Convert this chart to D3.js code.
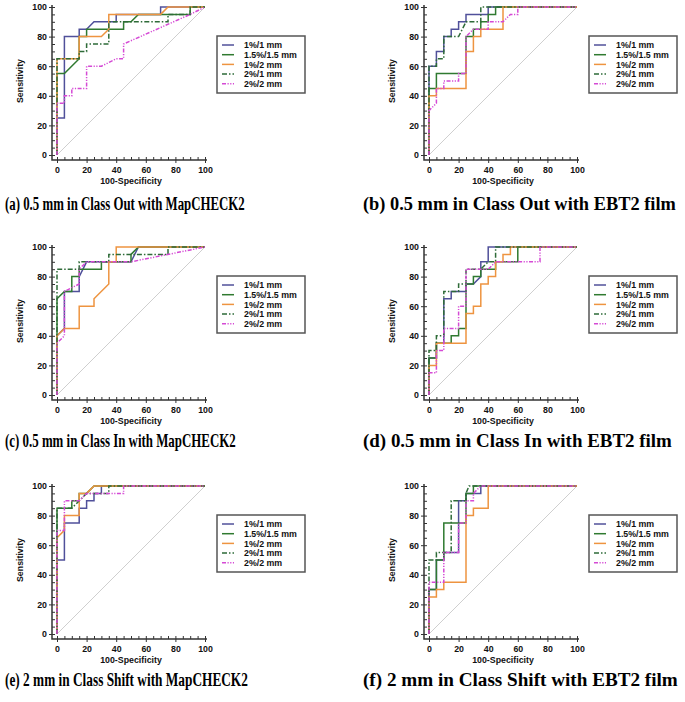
<!DOCTYPE html>
<html><head><meta charset="utf-8">
<script src="https://cdn.jsdelivr.net/npm/d3@7"></script>
<style>body{margin:0;background:#fff}svg{display:block}</style>
</head><body>
<svg id="chart" width="685" height="702"></svg>
<script>
const seriesNames = ["1%/1 mm", "1.5%/1.5 mm", "1%/2 mm", "2%/1 mm", "2%/2 mm"];
const captions = [
  "(a) 0.5 mm in Class Out with MapCHECK2",
  "(b) 0.5 mm in Class Out with EBT2 film",
  "(c) 0.5 mm in Class In with MapCHECK2",
  "(d) 0.5 mm in Class In with EBT2 film",
  "(e) 2 mm in Class Shift with MapCHECK2",
  "(f) 2 mm in Class Shift with EBT2 film"
];
const majorTicks = [0, 20, 40, 60, 80, 100];
const xTitle = "100-Specificity";
const yTitle = "Sensitivity";

// ROC points [100-Specificity, Sensitivity]
const pa1 = [[0,0],[0,25],[5,25],[5,80],[15,80],[15,85],[20,85],[25,90],[40,90],[40,95],[70,95],[70,100],[100,100]];
const pa2 = [[0,0],[0,55],[5,55],[15,65],[15,80],[20,80],[20,85],[45,85],[45,90],[50,90],[55,95],[90,95],[90,100],[100,100]];
const pa3 = [[0,0],[0,65],[15,65],[15,80],[30,80],[35,85],[35,95],[70,95],[75,100],[100,100]];
const pa4 = [[0,0],[0,65],[15,65],[15,70],[20,70],[20,75],[35,75],[35,90],[75,90],[75,95],[90,95],[90,100],[100,100]];
const pa5 = [[0,0],[0,35],[5,35],[5,40],[10,40],[10,45],[20,45],[20,60],[30,60],[40,65],[45,65],[45,75],[90,95],[100,100]];

const pb1 = [[0,0],[0,60],[5,60],[5,70],[10,70],[10,80],[15,80],[15,85],[20,85],[20,90],[25,90],[25,95],[40,95],[40,100],[100,100]];
const pb2 = [[0,0],[0,45],[5,45],[5,55],[25,55],[25,80],[30,80],[30,85],[35,85],[35,90],[40,90],[40,95],[45,95],[45,100],[100,100]];
const pb3 = [[0,0],[0,40],[5,40],[5,45],[25,45],[25,70],[30,70],[30,80],[35,80],[35,85],[50,85],[50,100],[100,100]];
const pb4 = [[0,0],[0,60],[5,60],[5,65],[10,65],[10,80],[20,80],[25,90],[35,90],[35,100],[100,100]];
const pb5 = [[0,0],[0,30],[5,35],[5,45],[10,45],[10,50],[20,50],[20,55],[25,55],[25,80],[30,85],[40,85],[40,90],[50,90],[55,95],[60,95],[60,100],[100,100]];

const pc1 = [[0,0],[0,40],[5,45],[5,70],[15,70],[15,80],[20,90],[50,90],[55,100],[100,100]];
const pc2 = [[0,0],[0,65],[5,70],[10,70],[10,80],[15,80],[15,85],[30,85],[30,90],[50,90],[50,95],[55,100],[100,100]];
const pc3 = [[0,0],[0,40],[5,45],[15,45],[15,60],[25,60],[25,65],[35,75],[35,90],[40,90],[40,100],[100,100]];
const pc4 = [[0,0],[0,85],[15,85],[15,90],[35,90],[35,95],[75,95],[75,100],[100,100]];
const pc5 = [[0,0],[0,35],[5,40],[5,70],[15,75],[15,85],[20,90],[50,90],[100,100]];

const pd1 = [[0,0],[0,25],[5,25],[5,35],[10,35],[10,65],[15,65],[15,70],[25,70],[25,75],[30,75],[35,80],[35,90],[40,90],[40,100],[100,100]];
const pd2 = [[0,0],[0,25],[5,25],[5,35],[15,35],[15,40],[20,40],[20,45],[25,45],[25,75],[30,75],[30,80],[35,80],[35,85],[45,85],[45,90],[60,90],[60,100],[100,100]];
const pd3 = [[0,0],[0,20],[5,20],[5,35],[25,35],[25,55],[30,55],[30,60],[35,60],[35,75],[40,75],[40,80],[45,80],[45,90],[50,90],[50,95],[55,95],[55,100],[100,100]];
const pd4 = [[0,0],[0,30],[5,30],[5,40],[10,40],[10,70],[20,70],[20,75],[25,75],[25,85],[35,85],[40,90],[45,90],[45,100],[100,100]];
const pd5 = [[0,0],[0,15],[5,15],[5,30],[10,30],[10,45],[20,45],[20,60],[25,60],[25,85],[40,85],[45,90],[75,90],[75,100],[100,100]];

const pe1 = [[0,0],[0,50],[5,50],[5,75],[15,75],[15,85],[20,85],[20,90],[25,90],[25,95],[30,95],[30,100],[100,100]];
const pe2 = [[0,0],[0,85],[10,85],[10,90],[15,90],[15,95],[20,95],[25,100],[100,100]];
const pe3 = [[0,0],[0,65],[5,70],[5,80],[15,80],[15,95],[20,95],[25,100],[100,100]];
const pe4 = [[0,0],[0,85],[10,85],[15,90],[20,95],[35,95],[35,100],[100,100]];
const pe5 = [[0,0],[0,70],[5,70],[5,90],[15,90],[20,95],[45,95],[45,100],[100,100]];

const pf1 = [[0,0],[0,30],[5,30],[5,50],[10,50],[10,55],[20,55],[20,90],[25,90],[25,95],[35,95],[35,100],[100,100]];
const pf2 = [[0,0],[0,30],[5,30],[5,50],[10,50],[10,75],[25,75],[25,95],[30,95],[30,100],[100,100]];
const pf3 = [[0,0],[0,25],[5,25],[5,30],[10,30],[10,35],[25,35],[25,80],[30,80],[30,85],[40,85],[40,100],[100,100]];
const pf4 = [[0,0],[0,50],[5,50],[5,55],[15,55],[15,90],[25,90],[25,95],[27,100],[100,100]];
const pf5 = [[0,0],[0,35],[10,35],[10,55],[20,55],[20,75],[25,75],[25,90],[30,90],[30,95],[35,100],[100,100]];

const panelSeries = [[pa1,pa2,pa3,pa4,pa5],[pb1,pb2,pb3,pb4,pb5],[pc1,pc2,pc3,pc4,pc5],
                     [pd1,pd2,pd3,pd4,pd5],[pe1,pe2,pe3,pe4,pe5],[pf1,pf2,pf3,pf4,pf5]];

// styles
const colors = ["#50509a", "#2f7a30", "#ee9440", "#2e6b38", "#d54ad5"];
const dashes = [null, null, null, "5,2,1.5,2", "4,1.5,1.2,1.5,1.2,1.5"];
const panelX = [57, 429, 57, 429, 57, 429];
const panelY = [7, 7, 247, 247, 486, 486];
const captionX = [5, 363, 5, 363, 5, 363];
const captionY = [210, 210, 447, 447, 686, 686];
const captionW = [240, 313, 231, 309, 243, 315];
const S = 148, OFF = 5;

const svg = d3.select("#chart");
const font = "'Liberation Sans', Arial, sans-serif";

panelSeries.forEach((series, p) => {
  const x0 = panelX[p], y0 = panelY[p];
  const x = d3.scaleLinear().domain([0, 100]).range([x0, x0 + S]);
  const y = d3.scaleLinear().domain([0, 100]).range([y0 + S, y0]);
  const g = svg.append("g");

  // diagonal reference
  g.append("line").attr("x1", x(0)).attr("y1", y(0)).attr("x2", x(100)).attr("y2", y(100))
    .attr("stroke", "#cfcfcf").attr("stroke-width", 1);

  // axes (offset from plot)
  const yAx = g.append("g").attr("transform", `translate(${x0 - OFF},0)`);
  yAx.call(d3.axisLeft(y).tickValues(d3.range(0, 101, 5)).tickSize(-3).tickFormat(""));
  yAx.select(".domain").remove();
  const yAxM = g.append("g").attr("transform", `translate(${x0 - OFF},0)`);
  yAxM.call(d3.axisLeft(y).tickValues(majorTicks).tickSize(3).tickPadding(2));
  yAxM.select(".domain").remove();

  const xAx = g.append("g").attr("transform", `translate(0,${y0 + S + OFF})`);
  xAx.call(d3.axisBottom(x).tickValues(d3.range(0, 101, 5)).tickSize(-3).tickFormat(""));
  xAx.select(".domain").remove();
  const xAxM = g.append("g").attr("transform", `translate(0,${y0 + S + OFF})`);
  xAxM.call(d3.axisBottom(x).tickValues(majorTicks).tickSize(3).tickPadding(4));
  xAxM.select(".domain").remove();

  g.selectAll(".tick line").attr("stroke", "#333").attr("stroke-width", 1);
  g.selectAll(".tick text").attr("font-family", font).attr("font-weight", "bold")
    .attr("font-size", 8.8).attr("fill", "#111");

  // axis lines
  g.append("path")
    .attr("d", `M${x0 - OFF},${y0 - 2}V${y0 + S + OFF}H${x0 + S + 2}`)
    .attr("fill", "none").attr("stroke", "#333").attr("stroke-width", 1.5);

  // titles
  g.append("text").attr("x", x(50)).attr("y", y0 + S + 29).attr("text-anchor", "middle")
    .attr("font-family", font).attr("font-weight", "bold").attr("font-size", 8.8).attr("fill", "#111")
    .text(xTitle);
  g.append("text").attr("transform", `translate(${x0 - 34},${y(50)}) rotate(-90)`)
    .attr("text-anchor", "middle")
    .attr("font-family", font).attr("font-weight", "bold").attr("font-size", 8.8).attr("fill", "#111")
    .text(yTitle);

  // curves
  const line = d3.line().x(d => x(d[0])).y(d => y(d[1]));
  series.forEach((s, i) => {
    g.append("path").attr("d", line(s)).attr("fill", "none")
      .attr("stroke", colors[i]).attr("stroke-width", 1.5)
      .attr("stroke-dasharray", dashes[i]);
  });

  // legend
  const lx = x0 + 160, ly = y0 + 29;
  const lg = g.append("g").attr("transform", `translate(${lx},${ly})`);
  lg.append("rect").attr("width", 88).attr("height", 57).attr("fill", "#fff")
    .attr("stroke", "#555").attr("stroke-width", 1.5);
  seriesNames.forEach((n, i) => {
    const yy = 9 + i * 9.7;
    lg.append("line").attr("x1", 5).attr("x2", 17).attr("y1", yy).attr("y2", yy)
      .attr("stroke", colors[i]).attr("stroke-width", 1.5).attr("stroke-dasharray", dashes[i]);
    lg.append("text").attr("x", 27).attr("y", yy + 3.2)
      .attr("font-family", font).attr("font-weight", "bold").attr("font-size", 8.8).attr("fill", "#111")
      .text(n);
  });

  // caption (condensed horizontally via scale transform)
  const cap = svg.append("text").attr("x", 0).attr("y", 0)
    .attr("font-family", "'Liberation Serif', 'Times New Roman', serif").attr("font-weight", "bold")
    .attr("font-size", 19.5).attr("fill", "#000")
    .text(captions[p]);
  const natural = cap.node().getComputedTextLength();
  cap.attr("transform", `translate(${captionX[p]},${captionY[p]}) scale(${captionW[p] / natural},1)`);
});
</script>
</body></html>
